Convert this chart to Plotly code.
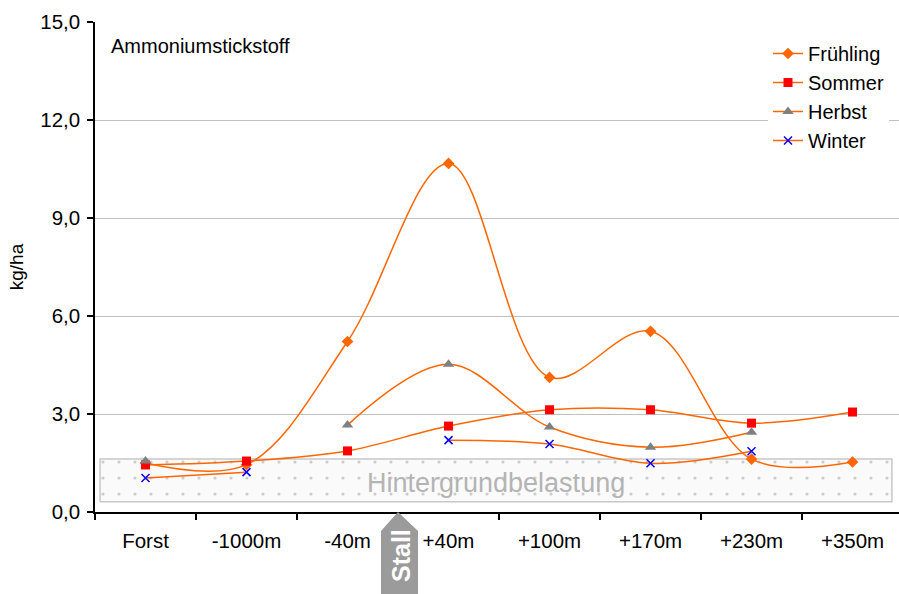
import plotly.graph_objects as go

categories = ["Forst", "-1000m", "-40m", "+40m", "+100m", "+170m", "+230m", "+350m"]
fruehling = [1.50, 1.45, 5.22, 10.67, 4.12, 5.53, 1.62, 1.53]
sommer = [1.44, 1.56, 1.87, 2.63, 3.13, 3.13, 2.72, 3.06]
herbst = [1.56, None, 2.66, 4.52, 2.60, 1.98, 2.44, None]
winter = [1.04, 1.22, None, 2.20, 2.08, 1.49, 1.86, None]
y_ticks = [0, 3, 6, 9, 12, 15]

W, H = 899, 594
L, R, T, B = 95, 0, 22, 82
XR = [-0.5, 7.46]
YR = [0, 15]
PW = W - L - R
PH = H - T - B

def px2paper_x(px):
    return (px - L) / PW

def px2paper_y(py):
    return (H - B - py) / PH

xs = list(range(len(categories)))
ORANGE = "#FF6600"
FONT = "Liberation Sans, Arial, sans-serif"

fig = go.Figure()

# background band "Hintergrundbelastung"
bx0, bx1, by0, by1 = -0.45, 7.39, 0.31, 1.62
fig.add_trace(go.Scatter(
    x=[bx0, bx1, bx1, bx0, bx0], y=[by0, by0, by1, by1, by0],
    mode="lines", fill="toself",
    fillcolor="#fafafa",
    fillpattern=dict(shape=".", size=16, solidity=0.03, fgcolor="#cccccc",
                     bgcolor="#fafafa", fillmode="replace"),
    line=dict(color="#c8c8c8", width=1.5),
    showlegend=False, hoverinfo="skip"))

series = [
    ("Frühling", fruehling, dict(symbol="diamond", size=9, color=ORANGE)),
    ("Sommer", sommer, dict(symbol="square", size=9, color="#FF0000")),
    ("Herbst", herbst, dict(symbol="triangle-up", size=10, color="#808080")),
    ("Winter", winter, dict(symbol="x-thin", size=8, color="#0000FF",
                            line=dict(color="#0000FF", width=1.5))),
]
for name, vals, mk in series:
    fig.add_trace(go.Scatter(
        x=xs, y=vals, name=name, mode="lines+markers",
        line=dict(color=ORANGE, width=1.5, shape="spline", smoothing=1),
        marker=mk, connectgaps=False))

# Stall arrow
xl, xc, xr = 381, 398, 418
ytip, ysh, ybot = H - B, 531, 600
path = "M {} {} L {} {} L {} {} L {} {} L {} {} Z".format(
    px2paper_x(xc), px2paper_y(ytip),
    px2paper_x(xr), px2paper_y(ysh),
    px2paper_x(xr), px2paper_y(ybot),
    px2paper_x(xl), px2paper_y(ybot),
    px2paper_x(xl), px2paper_y(ysh))
fig.add_shape(type="path", path=path, xref="paper", yref="paper",
              fillcolor="#9b9b9b", line=dict(width=0), layer="above")

fig.add_annotation(text="<b>Stall</b>", xref="paper", yref="paper",
                   x=px2paper_x(401), y=px2paper_y(556), textangle=-90,
                   showarrow=False, font=dict(family=FONT, size=25, color="white"),
                   xanchor="center", yanchor="middle")

fig.add_annotation(text="Ammoniumstickstoff", xref="paper", yref="paper",
                   x=px2paper_x(109), y=px2paper_y(46), showarrow=False,
                   xanchor="left", yanchor="middle",
                   font=dict(family=FONT, size=20, color="black"))

fig.add_annotation(text="Hintergrundbelastung", xref="x", yref="y",
                   x=3.47, y=0.89, showarrow=False,
                   xanchor="center", yanchor="middle",
                   font=dict(family=FONT, size=27, color="#b4b4b4"))

fig.update_layout(
    width=W, height=H,
    margin=dict(l=L, r=R, t=T, b=B, pad=0, autoexpand=False),
    paper_bgcolor="white", plot_bgcolor="white",
    separators=",.",
    font=dict(family=FONT, size=20, color="black"),
    showlegend=True,
    legend=dict(x=px2paper_x(768), y=px2paper_y(34), xanchor="left", yanchor="top",
                bgcolor="white", font=dict(size=20), tracegroupgap=0,
                borderwidth=0),
    xaxis=dict(type="linear", range=XR, tickmode="array", tickvals=xs,
               ticktext=categories, ticks="", showgrid=False, zeroline=False,
               showline=True, linecolor="black", linewidth=1.5,
               ticklabelstandoff=10, automargin=False,
               minor=dict(tickmode="array",
                          tickvals=[i - 0.5 for i in range(len(categories) + 1)],
                          ticks="outside", ticklen=6, tickcolor="black",
                          tickwidth=1.5, showgrid=False),
               tickfont=dict(size=20.5)),
    yaxis=dict(range=YR, tickmode="array", tickvals=y_ticks, tickformat=".1f",
               ticks="outside", ticklen=6, tickcolor="black", tickwidth=1.5,
               showline=True, linecolor="black", linewidth=1.5,
               showgrid=True, gridcolor="#c0c0c0", gridwidth=1, zeroline=False,
               title=dict(text="kg/ha", font=dict(size=19), standoff=12),
               automargin=False,
               ticklabelstandoff=3, tickfont=dict(size=20.5)),
)

fig.write_html("out.html", config={"displayModeBar": False},
               post_script="document.body.style.margin='0';document.body.style.padding='0';")
